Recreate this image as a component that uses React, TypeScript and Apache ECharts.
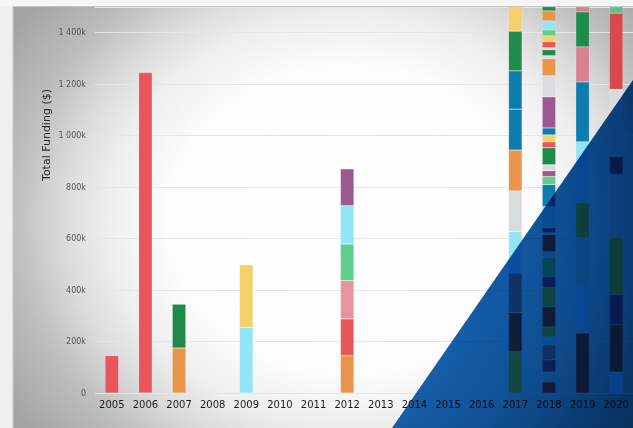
import React, { useEffect, useRef } from "react";
import * as echarts from "echarts";

const years = ["2005", "2006", "2007", "2008", "2009", "2010", "2011", "2012", "2013", "2014", "2015", "2016", "2017", "2018", "2019", "2020"];
const yTicks = [0, 200, 400, 600, 800, 1000, 1200, 1400];

// funding per investment, in $k, listed bottom to top
const v2005 = [145];
const c2005 = ["#e8555b"];
const v2006 = [1245];
const c2006 = ["#e8555b"];
const v2007 = [175, 170];
const c2007 = ["#e8954b", "#1e8a4c"];
const v2009 = [255, 243];
const c2009 = ["#92e4f7", "#f5d06a"];
const v2012 = [145, 143, 149, 142, 149, 143];
const c2012 = ["#e8954b", "#e8555b", "#e9939e", "#5fcf8f", "#92e4f7", "#9b5a8e"];
const v2017 = [160, 152, 154, 161, 158, 159, 159, 149, 154, 160];
const c2017 = ["#f5d06a", "#e8555b", "#e9939e", "#92e4f7", "#d9dcdf", "#e8954b", "#0f7cb0", "#0f7cb0", "#1e8a4c", "#f5d06a"];
const v2018 = [43, 39, 47, 58, 31, 39, 78, 74, 43, 74, 23, 66, 8, 19, 82, 86, 31, 23, 23, 66, 23, 27, 27, 121, 82, 66, 12, 23, 8, 23, 23, 23, 35, 39, 30];
const c2018 = ["#e8555b", "#d9dcdf", "#9b5a8e", "#e9939e", "#92e4f7", "#f5d06a", "#e8555b", "#f5d06a", "#9b5a8e", "#5fcf8f", "#d9dcdf", "#e8555b", "#d9dcdf", "#9b5a8e", "#92e4f7", "#0f7cb0", "#5fcf8f", "#9b5a8e", "#d9dcdf", "#1e8a4c", "#e8555b", "#f5d06a", "#0f7cb0", "#9b5a8e", "#d9dcdf", "#e8954b", "#d9dcdf", "#1e8a4c", "#d9dcdf", "#e8555b", "#f5d06a", "#5fcf8f", "#92e4f7", "#e8954b", "#1e8a4c"];
const v2019 = [233, 185, 185, 136, 237, 233, 136, 136, 30];
const c2019 = ["#e8555b", "#92e4f7", "#d9dcdf", "#f5d06a", "#92e4f7", "#0f7cb0", "#d9808f", "#1e8a4c", "#d9808f"];
const v2020 = [82, 183, 117, 222, 245, 70, 261, 296, 30];
const c2020 = ["#92e4f7", "#e8555b", "#9b5a8e", "#f5d06a", "#d9dcdf", "#9b5a8e", "#d9dcdf", "#d9484c", "#5fbf8a"];

const stacks: Record<string, [number[], string[]]> = {
  "2005": [v2005, c2005],
  "2006": [v2006, c2006],
  "2007": [v2007, c2007],
  "2009": [v2009, c2009],
  "2012": [v2012, c2012],
  "2017": [v2017, c2017],
  "2018": [v2018, c2018],
  "2019": [v2019, c2019],
  "2020": [v2020, c2020],
};

function fmt(v: number): string {
  if (v === 0) return "0";
  if (v >= 1000) return `${Math.floor(v / 1000)} ${String(v % 1000).padStart(3, "0")}k`;
  return `${v}k`;
}

export default function App() {
  const ref = useRef<HTMLDivElement>(null);
  useEffect(() => {
    if (!ref.current) return;
    const chart = echarts.init(ref.current, undefined, { renderer: "svg" });
    const layers = Math.max(...Object.values(stacks).map((s) => s[0].length));
    const series: any[] = [];
    for (let i = 0; i < layers; i++) {
      series.push({
        type: "bar",
        stack: "total",
        barWidth: 13.5,
        clip: true,
        z: 2,
        itemStyle: { borderColor: "rgba(255,255,255,0.35)", borderWidth: 0.5 },
        data: years.map((y) => {
          const s = stacks[y];
          if (!s || s[0][i] === undefined) return "-";
          return { value: s[0][i], itemStyle: { color: s[1][i] } };
        }),
      });
    }
    chart.setOption({
      animation: false,
      grid: { left: 95, right: -1, top: 7, bottom: 35 },
      xAxis: {
        type: "category",
        data: years,
        axisLine: { show: false },
        axisTick: { show: false },
        axisLabel: { color: "#1a1a1a", fontSize: 10, fontFamily: "DejaVu Sans", margin: 6, interval: 0 },
      },
      yAxis: {
        type: "value",
        min: 0,
        max: 1500,
        interval: 200,
        axisLine: { show: false },
        axisTick: { show: false },
        splitLine: { lineStyle: { color: "#e6e6e6", width: 1 } },
        axisLabel: { color: "#555", fontSize: 8, fontFamily: "DejaVu Sans", margin: 9, showMaxLabel: false, formatter: (v: number) => (yTicks.includes(v) ? fmt(v) : "") },
      },
      graphic: [
        {
          type: "rect",
          z: -10,
          silent: true,
          shape: { x: -56, y: -122, width: 812, height: 684 },
          style: {
            fill: {
              type: "radial", x: 0.5, y: 0.5, r: 0.5,
              colorStops: [
                { offset: 0, color: "#ffffff" },
                { offset: 0.45, color: "#fcfcfc" },
                { offset: 0.6, color: "#eeeeee" },
                { offset: 0.71, color: "#dadada" },
                { offset: 0.83, color: "#bdbdbd" },
                { offset: 1, color: "#a4a4a4" },
              ],
            },
          },
        },
        { type: "rect", z: -9, silent: true, shape: { x: 0, y: 0, width: 13, height: 428 }, style: { fill: "#efefef" } },
        { type: "rect", z: -9, silent: true, shape: { x: 0, y: 0, width: 633, height: 6 }, style: { fill: "#f6f6f6" } },
        { type: "line", z: -8, silent: true, shape: { x1: 13, y1: 6.5, x2: 633, y2: 6.5 }, style: { stroke: "#c4c4c4", lineWidth: 1 } },
        { type: "line", z: -8, silent: true, shape: { x1: 13, y1: 6, x2: 13, y2: 428 }, style: { stroke: "#c8c8c8", lineWidth: 1 } },
        {
          type: "text", z: 5, silent: true, x: 46, y: 135, rotation: Math.PI / 2,
          style: { text: "Total Funding ($)", fill: "#2a2a2a", fontSize: 11, fontFamily: "DejaVu Sans", align: "center", verticalAlign: "middle" },
        },
        {
          type: "polygon",
          z: 100,
          silent: true,
          shape: { points: [[384, 439.5], [645, 62.7], [645, 440]] },
          style: {
            blend: "multiply",
            fill: {
              type: "linear", x: 0, y: 0, x2: 1, y2: 0,
              colorStops: [
                { offset: 0, color: "#1865b4" },
                { offset: 0.5, color: "#1158a3" },
                { offset: 1, color: "#0b4486" },
              ],
            },
          },
        },
      ],
      series,
    });
    // apply multiply blending to the overlay triangle so marks show through it
    const svg = ref.current.querySelector("svg");
    if (svg) {
      svg.querySelectorAll("path").forEach((p) => {
        const d = p.getAttribute("d") || "";
        if (d.replace(/\s+/g, " ").startsWith("M384 439.5")) {
          (p as SVGPathElement).style.mixBlendMode = "multiply";
        }
      });
    }
    return () => chart.dispose();
  }, []);
  return <div ref={ref} style={{ position: "fixed", left: 0, top: 0, width: 633, height: 428, background: "#fff" }} />;
}
